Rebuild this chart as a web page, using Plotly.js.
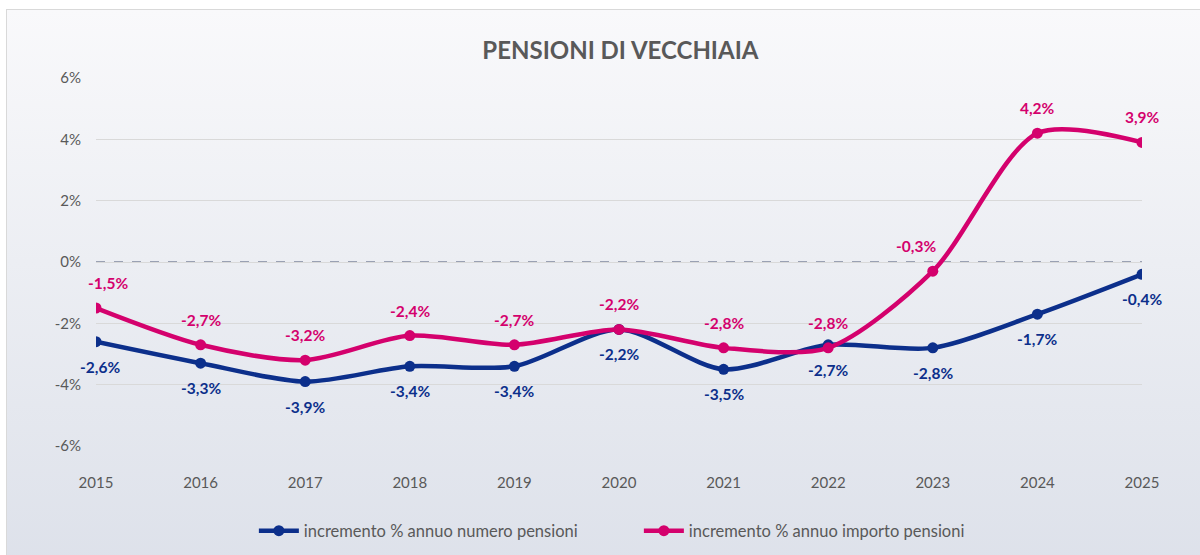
<!DOCTYPE html>
<html>
<head>
<meta charset="utf-8">
<script src="https://cdn.plot.ly/plotly-3.0.1.min.js"></script>
<style>
  html, body { margin: 0; padding: 0; width: 1200px; height: 555px; overflow: hidden; background: #ffffff; }
  #frame { position: absolute; left: 6px; top: 9px; width: 1200px; height: 560px;
           border: 1px solid #d9d9d9;
           background: linear-gradient(to bottom, #f9f9fb 0%, #eceef3 45%, #dde1ea 100%); }
  #chart { position: absolute; left: 0; top: 0; width: 1200px; height: 555px; }
</style>
</head>
<body>
<div id="frame"></div>
<div id="chart"></div>
<script>
const years = [2015, 2016, 2017, 2018, 2019, 2020, 2021, 2022, 2023, 2024, 2025];
const numeroPensioni = [-2.6, -3.3, -3.9, -3.4, -3.4, -2.2, -3.5, -2.7, -2.8, -1.7, -0.4];
const importoPensioni = [-1.5, -2.7, -3.2, -2.4, -2.7, -2.2, -2.8, -2.8, -0.3, 4.2, 3.9];
const seriesNames = ['incremento % annuo numero pensioni', 'incremento % annuo importo pensioni'];
const yTickVals = [-6, -4, -2, 0, 2, 4, 6];
const yTickText = ['-6%', '-4%', '-2%', '0%', '2%', '4%', '6%'];
const chartTitle = 'PENSIONI DI VECCHIAIA';

const BLUE = '#0c2f8b';
const PINK = '#d4016d';
const FONT = 'Lato, "Open Sans", sans-serif';
const fmt = v => v.toFixed(1).replace('.', ',') + '%';

const traces = [
  { x: years, y: numeroPensioni, name: seriesNames[0], type: 'scatter', mode: 'lines+markers',
    line: { color: BLUE, width: 4.5, shape: 'spline', smoothing: 0.8 },
    marker: { color: BLUE, size: 11 }, hoverinfo: 'skip' },
  { x: years, y: importoPensioni, name: seriesNames[1], type: 'scatter', mode: 'lines+markers',
    line: { color: PINK, width: 4.5, shape: 'spline', smoothing: 0.8 },
    marker: { color: PINK, size: 11 }, hoverinfo: 'skip' }
];

const annotations = [];
years.forEach((yr, i) => {
  annotations.push({ x: yr, y: numeroPensioni[i], text: '<b>' + fmt(numeroPensioni[i]) + '</b>',
    showarrow: false, yshift: -25, xshift: (i === 0 ? 4 : 0),
    font: { family: FONT, size: 15.5, color: BLUE } });
  annotations.push({ x: yr, y: importoPensioni[i], text: '<b>' + fmt(importoPensioni[i]) + '</b>',
    showarrow: false, yshift: 25, xshift: (i === 8 ? -17 : (i === 0 ? 12 : 0)),
    font: { family: FONT, size: 15.5, color: PINK } });
});

const layout = {
  width: 1200, height: 555,
  paper_bgcolor: 'rgba(0,0,0,0)', plot_bgcolor: 'rgba(0,0,0,0)',
  margin: { l: 96, r: 58, t: 78, b: 109, autoexpand: false },
  title: { text: '<b>' + chartTitle + '</b>', x: 0.517, xanchor: 'center', y: 0.908, yanchor: 'middle',
    font: { family: FONT, size: 24, color: '#595959' } },
  xaxis: { range: [2015, 2025], tickvals: years, ticktext: years.map(String),
    showgrid: false, zeroline: false, showline: false, ticks: '',
    ticklabelstandoff: 26,
    tickfont: { family: FONT, size: 15, color: '#595959' }, fixedrange: true },
  yaxis: { range: [-6, 6], tickvals: yTickVals, ticktext: yTickText,
    showgrid: true, gridcolor: '#d9d9d9', gridwidth: 1,
    zeroline: false, showline: false, ticks: '', ticklabelstandoff: 14,
    tickfont: { family: FONT, size: 15, color: '#595959' }, fixedrange: true },
  shapes: [{ type: 'line', xref: 'x', yref: 'y', x0: 2015, x1: 2025, y0: 0, y1: 0,
    line: { color: '#7f889e', width: 1.5, dash: 'dash' }, layer: 'below' }],
  annotations: annotations,
  showlegend: true,
  legend: { orientation: 'h', x: 0.519, xanchor: 'center', y: -0.231, yanchor: 'middle',
    font: { family: FONT, size: 16.5, color: '#595959' }, bgcolor: 'rgba(0,0,0,0)',
    itemwidth: 40, entrywidth: 330, tracegroupgap: 0 }
};

Plotly.newPlot('chart', traces, layout, { displayModeBar: false, staticPlot: true });
</script>
</body>
</html>
